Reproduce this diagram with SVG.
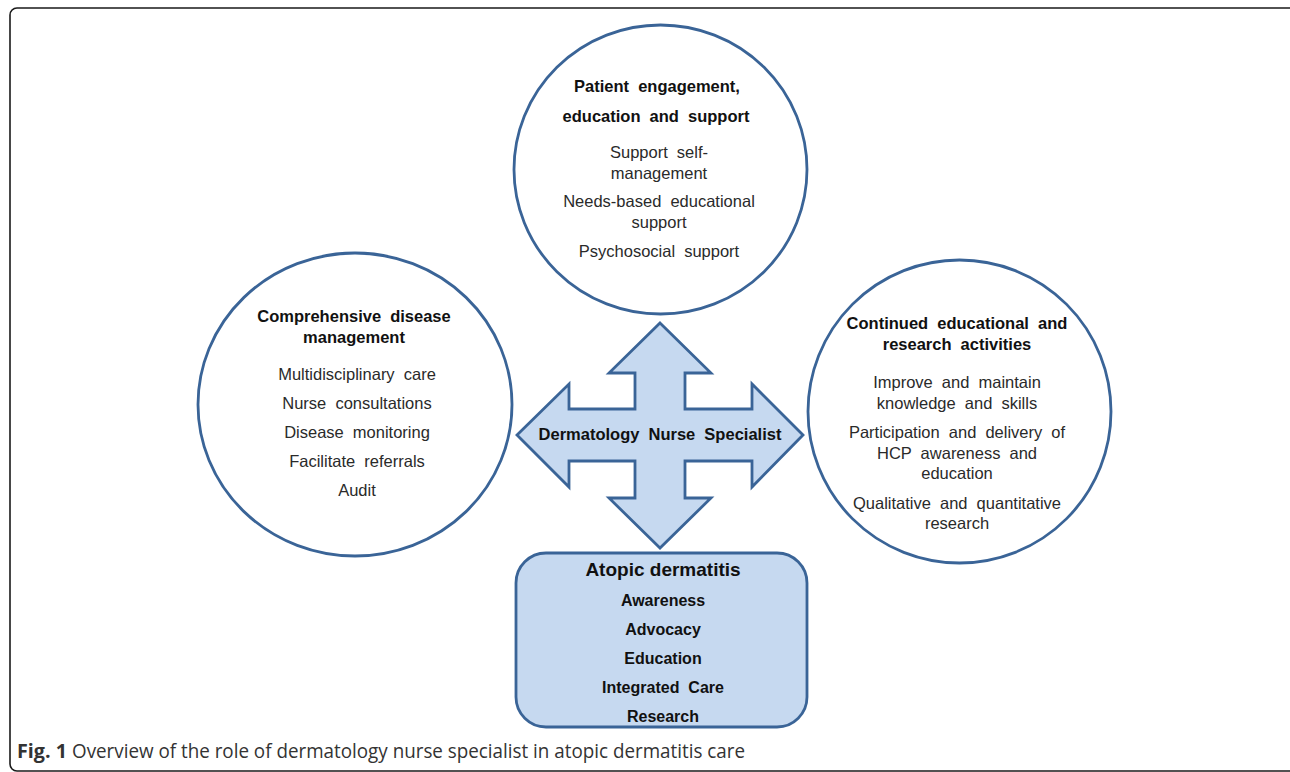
<svg xmlns="http://www.w3.org/2000/svg" width="1290" height="772" viewBox="0 0 1290 772">
<style>
.frame{fill:none;stroke:#1a1a1a;stroke-width:1.6}
.node{fill:#ffffff;stroke:#3a6497;stroke-width:2.8}
.blue{fill:#c6d9f0;stroke:#3a6497;stroke-width:2.8;stroke-linejoin:miter}
.b{font-family:"Liberation Sans",Arial,sans-serif;font-weight:bold;font-size:16.5px;fill:#111;text-anchor:middle;word-spacing:4.5px}
.r{font-family:"Liberation Sans",Arial,sans-serif;font-size:16.5px;fill:#2a2a2a;text-anchor:middle;word-spacing:4.5px}
.cap{font-family:"Open Sans","Noto Sans",sans-serif;font-size:20px;fill:#333}
</style>
<rect class="frame" x="10" y="8" width="1290" height="763" rx="7"/>
<g id="connectors">
<path class="blue" d="M660 323 L711 373 L685 373 L685 409 L752 409 L752 384 L803 435 L752 487 L752 461 L685 461 L685 498 L711 498 L660 548 L609 498 L635 498 L635 461 L569 461 L569 487 L517 435 L569 384 L569 409 L635 409 L635 373 L609 373 Z"/>
<text class="b" x="660" y="440">Dermatology Nurse Specialist</text>
</g>
<g id="node-patient">
<ellipse class="node" cx="660.5" cy="169.5" rx="146.5" ry="144.5"/>
<text class="b" x="657" y="92">Patient engagement,</text>
<text class="b" x="656" y="122">education and support</text>
<text class="r" x="659" y="158">Support self-</text>
<text class="r" x="659" y="179">management</text>
<text class="r" x="659" y="207">Needs-based educational</text>
<text class="r" x="659" y="228">support</text>
<text class="r" x="659" y="257">Psychosocial support</text>
</g>
<g id="node-disease">
<ellipse class="node" cx="355" cy="404.5" rx="157" ry="151.5"/>
<text class="b" x="354" y="322">Comprehensive disease</text>
<text class="b" x="354" y="343">management</text>
<text class="r" x="357" y="380">Multidisciplinary care</text>
<text class="r" x="357" y="409">Nurse consultations</text>
<text class="r" x="357" y="438">Disease monitoring</text>
<text class="r" x="357" y="467">Facilitate referrals</text>
<text class="r" x="357" y="496">Audit</text>
</g>
<g id="node-research">
<ellipse class="node" cx="959.5" cy="411.5" rx="151.5" ry="151.5"/>
<text class="b" x="957" y="329">Continued educational and</text>
<text class="b" x="957" y="350">research activities</text>
<text class="r" x="957" y="388">Improve and maintain</text>
<text class="r" x="957" y="409">knowledge and skills</text>
<text class="r" x="957" y="438">Participation and delivery of</text>
<text class="r" x="957" y="459">HCP awareness and</text>
<text class="r" x="957" y="479">education</text>
<text class="r" x="957" y="509">Qualitative and quantitative</text>
<text class="r" x="957" y="529">research</text>
</g>
<g id="node-atopic">
<rect class="blue" x="516" y="553" width="291" height="174" rx="30"/>
<text class="b" x="663" y="576" style="font-size:19px;word-spacing:0">Atopic dermatitis</text>
<text class="b" x="663" y="606" style="font-size:16px">Awareness</text>
<text class="b" x="663" y="635" style="font-size:16px">Advocacy</text>
<text class="b" x="663" y="664" style="font-size:16px">Education</text>
<text class="b" x="663" y="693" style="font-size:16px">Integrated Care</text>
<text class="b" x="663" y="722" style="font-size:16px">Research</text>
</g>
<text class="cap" x="17" y="758" style="font-weight:bold" textLength="50" lengthAdjust="spacingAndGlyphs">Fig. 1</text>
<text class="cap" x="72" y="758" textLength="673" lengthAdjust="spacingAndGlyphs">Overview of the role of dermatology nurse specialist in atopic dermatitis care</text>
</svg>
